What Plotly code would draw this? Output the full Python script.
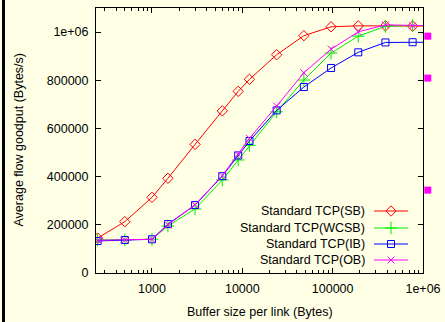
import math
import plotly.graph_objects as go

buffer_sizes = [250, 500, 1000, 1500, 3000, 6000, 9000, 12000, 24000, 48000, 96000, 192000, 384000, 768000, 1536000]
sb = [145e3, 213e3, 314e3, 393e3, 534e3, 673e3, 754e3, 804e3, 906e3, 985e3, 1022e3, 1026e3, 1026e3, 1025e3, 1025e3]
wcsb = [137e3, 137e3, 140e3, 195e3, 266e3, 386e3, 469e3, 530e3, 669e3, 801e3, 913e3, 983e3, 1024e3, 1027e3, 1027e3]
ib = [133e3, 137e3, 140e3, 203e3, 282e3, 402e3, 488e3, 548e3, 675e3, 772e3, 851e3, 916e3, 957e3, 958e3, 958e3]
ob = [136e3, 137e3, 140e3, 200e3, 283e3, 404e3, 492e3, 559e3, 693e3, 831e3, 929e3, 1001e3, 1030e3, 1026e3, 1026e3]

side_x = [1.13e6, 1.13e6, 1.13e6]
side_y = [983e3, 809e3, 344e3]

names = ["Standard TCP(SB)", "Standard TCP(WCSB)", "Standard TCP(IB)", "Standard TCP(OB)"]
colors = ["#FF0000", "#00EE00", "#0000FF", "#FF00FF"]
symbols = ["diamond-open", "cross-thin-open", "square-open", "x-thin-open"]
sizes = [8, 9, 7, 7]

y_ticks = [0, 200000, 400000, 600000, 800000, 1000000]
y_ticktext = ["0", "200000", "400000", "600000", "800000", "1e+06"]
x_ticks = [1000, 10000, 100000, 1000000]
x_ticktext = ["1000", "10000", "100000", "1e+06"]
x_minor = [m * 10 ** e for e in range(2, 6) for m in range(2, 10)]

W, H = 445, 322
L, R, T, B = 96, 423, 8, 273
FONT = "Liberation Sans, Arial, sans-serif"
FS = 12.5
BG = "#FFFFE6"

xr = [math.log10(240), 6.0]
frac = (R - L) / (W - L)
xr2 = [xr[0], xr[0] + (xr[1] - xr[0]) / frac]

fig = go.Figure()
for ys, nm, c, s, sz in zip([sb, wcsb, ib, ob], names, colors, symbols, sizes):
    fig.add_trace(go.Scatter(x=buffer_sizes, y=ys, name=nm, mode="lines+markers",
                             line=dict(color=c, width=1),
                             marker=dict(symbol=s, size=sz, color=c, line=dict(color=c, width=1)),
                             showlegend=False))

fig.add_trace(go.Scatter(x=side_x, y=side_y, mode="markers", xaxis="x2", yaxis="y2",
                         marker=dict(symbol="square", size=7, color="#FF00FF"),
                         showlegend=False))

def px(x):
    return (x - L) / (W - L)

def py(y):
    return (B - y) / (B - T)

rows = [211, 228, 244, 260]
for nm, c, s, sz, ry in zip(names, colors, symbols, sizes, rows):
    fig.add_trace(go.Scatter(x=[px(374), px(408)], y=[py(ry), py(ry)], mode="lines",
                             xaxis="x3", yaxis="y3", line=dict(color=c, width=1),
                             showlegend=False))
    fig.add_trace(go.Scatter(x=[px(391)], y=[py(ry)], mode="markers",
                             xaxis="x3", yaxis="y3",
                             marker=dict(symbol=s, size=sz, color=c, line=dict(color=c, width=1)),
                             showlegend=False))
    fig.add_annotation(x=px(367), y=py(ry), xref="paper", yref="paper", text=nm,
                       showarrow=False, xanchor="right", yanchor="middle",
                       font=dict(size=FS, color="black", family=FONT))

fig.add_annotation(x=px((L + R) / 2), y=py(312), xref="paper", yref="paper",
                   text="Buffer size per link (Bytes)", showarrow=False,
                   xanchor="center", yanchor="middle",
                   font=dict(size=FS, color="black", family=FONT))
fig.add_annotation(x=px(18), y=py((T + B) / 2), xref="paper", yref="paper",
                   text="Average flow goodput (Bytes/s)", showarrow=False, textangle=-90,
                   xanchor="center", yanchor="middle",
                   font=dict(size=FS, color="black", family=FONT))

fig.add_shape(type="rect", xref="paper", yref="paper",
              x0=px(2), x1=px(5), y0=py(H + 2), y1=py(-2),
              fillcolor="black", line=dict(width=0), layer="above")

fig.update_layout(
    width=W, height=H, autosize=False,
    margin=dict(l=L, r=0, t=T, b=H - B, pad=0, autoexpand=False),
    paper_bgcolor=BG, plot_bgcolor="rgba(0,0,0,0)",
    font=dict(family=FONT, size=FS, color="black"),
    showlegend=False,
    xaxis=dict(type="log", range=xr, domain=[0, frac], anchor="y",
               tickvals=x_ticks, ticktext=x_ticktext,
               ticks="inside", ticklen=5, tickcolor="black", tickwidth=1,
               showline=True, linecolor="black", linewidth=1, mirror="allticks",
               showgrid=False, zeroline=False, automargin=False, ticklabelstandoff=4,
               minor=dict(tickvals=x_minor, ticks="inside", ticklen=3, tickcolor="black", showgrid=False),
               tickfont=dict(size=FS, family=FONT)),
    yaxis=dict(range=[0, 1.1e6], domain=[0, 1], anchor="x", tickvals=y_ticks, ticktext=y_ticktext,
               ticks="inside", ticklen=5, tickcolor="black", tickwidth=1,
               showline=True, linecolor="black", linewidth=1, mirror="allticks",
               showgrid=False, zeroline=False, automargin=False, ticklabelstandoff=4,
               tickfont=dict(size=FS, family=FONT)),
    xaxis2=dict(type="log", range=xr2, domain=[0, 1], anchor="y2", visible=False, showgrid=False, automargin=False),
    yaxis2=dict(range=[0, 1.1e6], domain=[0, 1], anchor="x2", visible=False, showgrid=False, automargin=False),
    xaxis3=dict(range=[0, 1], domain=[0, 1], anchor="y3", visible=False, showgrid=False, automargin=False),
    yaxis3=dict(range=[0, 1], domain=[0, 1], anchor="x3", visible=False, showgrid=False, automargin=False),
)

fig.write_html("out.html")
